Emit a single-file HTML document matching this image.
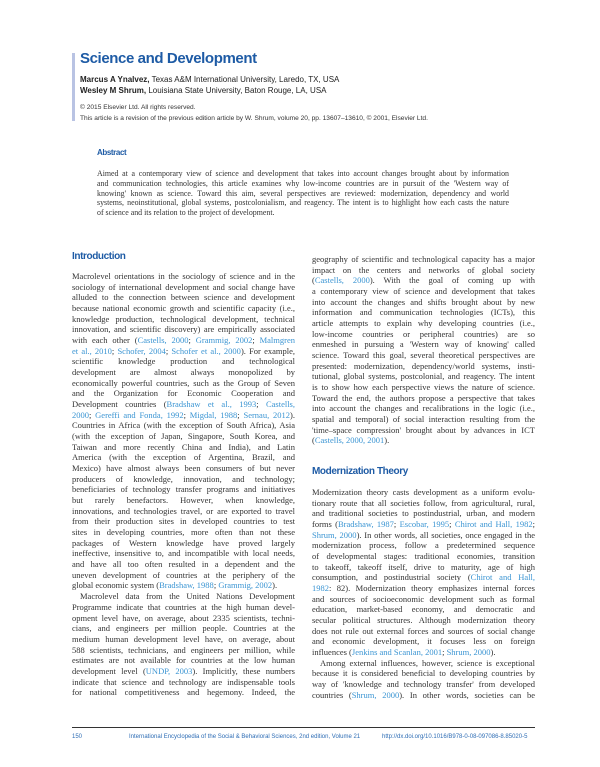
<!DOCTYPE html>
<html><head><meta charset="utf-8"><style>
body{margin:0;width:600px;height:767px;background:#fff;position:relative;overflow:hidden;font-family:"Liberation Serif",serif;color:#333}
.a{position:absolute}
.s{font-family:"Liberation Sans",sans-serif}
.col{position:absolute;width:223px;font-size:8.5px;line-height:10.68px}
.col div{height:10.68px;overflow:hidden;text-align:justify;text-align-last:justify}
.col div.e{text-align-last:left}
.col div.i{text-indent:8px}
.c{color:#3b95d3}
.hd{font-family:"Liberation Sans",sans-serif;font-weight:bold;color:#1e5ba5;font-size:10px;letter-spacing:-0.4px}
</style></head><body>
<div class="a" style="left:72px;top:53px;width:3px;height:68px;background:#b9c3e3"></div>
<div class="a s" style="left:80px;top:50px;font-size:15px;font-weight:bold;color:#1e5ba5;letter-spacing:-0.4px">Science and Development</div>
<div class="a s" style="left:80px;top:74px;font-size:8px;line-height:11px;color:#222"><b>Marcus A Ynalvez,</b> Texas A&amp;M International University, Laredo, TX, USA<br><b>Wesley M Shrum,</b> Louisiana State University, Baton Rouge, LA, USA</div>
<div class="a s" style="left:80px;top:102px;font-size:6.6px;line-height:11px;color:#333">© 2015 Elsevier Ltd. All rights reserved.<br>This article is a revision of the previous edition article by W. Shrum, volume 20, pp. 13607–13610, © 2001, Elsevier Ltd.</div>
<div class="a hd" style="left:97px;top:148px;font-size:8px">Abstract</div>
<div class="a" style="left:97px;top:169px;width:412px;font-size:7.9px;line-height:9.8px;color:#333">
<div style="text-align:justify;text-align-last:justify;height:9.8px;overflow:hidden">Aimed at a contemporary view of science and development that takes into account changes brought about by information</div>
<div style="text-align:justify;text-align-last:justify;height:9.8px;overflow:hidden">and communication technologies, this article examines why low-income countries are in pursuit of the 'Western way of</div>
<div style="text-align:justify;text-align-last:justify;height:9.8px;overflow:hidden">knowing' known as science. Toward this aim, several perspectives are reviewed: modernization, dependency and world</div>
<div style="text-align:justify;text-align-last:justify;height:9.8px;overflow:hidden">systems, neoinstitutional, global systems, postcolonialism, and reagency. The intent is to highlight how each casts the nature</div>
<div style="height:9.8px;overflow:hidden">of science and its relation to the project of development.</div>
</div>
<div class="a hd" style="left:72px;top:251px">Introduction</div>
<div class="col" style="left:72px;top:271px">
<div>Macrolevel orientations in the sociology of science and in the</div>
<div>sociology of international development and social change have</div>
<div>alluded to the connection between science and development</div>
<div>because national economic growth and scientific capacity (i.e.,</div>
<div>knowledge production, technological development, technical</div>
<div>innovation, and scientific discovery) are empirically associated</div>
<div>with each other (<span class="c">Castells, 2000</span>; <span class="c">Grammig, 2002</span>; <span class="c">Malmgren</span></div>
<div><span class="c">et al., 2010</span>; <span class="c">Schofer, 2004</span>; <span class="c">Schofer et al., 2000</span>). For example,</div>
<div>scientific knowledge production and technological</div>
<div>development are almost always monopolized by</div>
<div>economically powerful countries, such as the Group of Seven</div>
<div>and the Organization for Economic Cooperation and</div>
<div>Development countries (<span class="c">Bradshaw et al., 1993</span>; <span class="c">Castells,</span></div>
<div><span class="c">2000</span>; <span class="c">Gereffi and Fonda, 1992</span>; <span class="c">Migdal, 1988</span>; <span class="c">Sernau, 2012</span>).</div>
<div>Countries in Africa (with the exception of South Africa), Asia</div>
<div>(with the exception of Japan, Singapore, South Korea, and</div>
<div>Taiwan and more recently China and India), and Latin</div>
<div>America (with the exception of Argentina, Brazil, and</div>
<div>Mexico) have almost always been consumers of but never</div>
<div>producers of knowledge, innovation, and technology;</div>
<div>beneficiaries of technology transfer programs and initiatives</div>
<div>but rarely benefactors. However, when knowledge,</div>
<div>innovations, and technologies travel, or are exported to travel</div>
<div>from their production sites in developed countries to test</div>
<div>sites in developing countries, more often than not these</div>
<div>packages of Western knowledge have proved largely</div>
<div>ineffective, insensitive to, and incompatible with local needs,</div>
<div>and have all too often resulted in a dependent and the</div>
<div>uneven development of countries at the periphery of the</div>
<div class="e">global economic system (<span class="c">Bradshaw, 1988</span>; <span class="c">Grammig, 2002</span>).</div>
<div class="i">Macrolevel data from the United Nations Development</div>
<div>Programme indicate that countries at the high human devel-</div>
<div>opment level have, on average, about 2335 scientists, techni-</div>
<div>cians, and engineers per million people. Countries at the</div>
<div>medium human development level have, on average, about</div>
<div>588 scientists, technicians, and engineers per million, while</div>
<div>estimates are not available for countries at the low human</div>
<div>development level (<span class="c">UNDP, 2003</span>). Implicitly, these numbers</div>
<div>indicate that science and technology are indispensable tools</div>
<div>for national competitiveness and hegemony. Indeed, the</div>
</div>
<div class="col" style="left:312px;top:254px">
<div>geography of scientific and technological capacity has a major</div>
<div>impact on the centers and networks of global society</div>
<div>(<span class="c">Castells, 2000</span>). With the goal of coming up with</div>
<div>a contemporary view of science and development that takes</div>
<div>into account the changes and shifts brought about by new</div>
<div>information and communication technologies (ICTs), this</div>
<div>article attempts to explain why developing countries (i.e.,</div>
<div>low-income countries or peripheral countries) are so</div>
<div>enmeshed in pursuing a 'Western way of knowing' called</div>
<div>science. Toward this goal, several theoretical perspectives are</div>
<div>presented: modernization, dependency/world systems, insti-</div>
<div>tutional, global systems, postcolonial, and reagency. The intent</div>
<div>is to show how each perspective views the nature of science.</div>
<div>Toward the end, the authors propose a perspective that takes</div>
<div>into account the changes and recalibrations in the logic (i.e.,</div>
<div>spatial and temporal) of social interaction resulting from the</div>
<div>'time–space compression' brought about by advances in ICT</div>
<div class="e">(<span class="c">Castells, 2000, 2001</span>).</div>
</div>
<div class="a hd" style="left:312px;top:466px">Modernization Theory</div>
<div class="col" style="left:312px;top:487px">
<div>Modernization theory casts development as a uniform evolu-</div>
<div>tionary route that all societies follow, from agricultural, rural,</div>
<div>and traditional societies to postindustrial, urban, and modern</div>
<div>forms (<span class="c">Bradshaw, 1987</span>; <span class="c">Escobar, 1995</span>; <span class="c">Chirot and Hall, 1982</span>;</div>
<div><span class="c">Shrum, 2000</span>). In other words, all societies, once engaged in the</div>
<div>modernization process, follow a predetermined sequence</div>
<div>of developmental stages: traditional economies, transition</div>
<div>to takeoff, takeoff itself, drive to maturity, age of high</div>
<div>consumption, and postindustrial society (<span class="c">Chirot and Hall,</span></div>
<div><span class="c">1982</span>: 82). Modernization theory emphasizes internal forces</div>
<div>and sources of socioeconomic development such as formal</div>
<div>education, market-based economy, and democratic and</div>
<div>secular political structures. Although modernization theory</div>
<div>does not rule out external forces and sources of social change</div>
<div>and economic development, it focuses less on foreign</div>
<div class="e">influences (<span class="c">Jenkins and Scanlan, 2001</span>; <span class="c">Shrum, 2000</span>).</div>
<div class="i">Among external influences, however, science is exceptional</div>
<div>because it is considered beneficial to developing countries by</div>
<div>way of 'knowledge and technology transfer' from developed</div>
<div>countries (<span class="c">Shrum, 2000</span>). In other words, societies can be</div>
</div>
<div class="a" style="left:72px;top:727px;width:463px;height:1px;background:#333"></div>
<div class="a s" style="left:72px;top:734px;font-size:6px;color:#2e6db5">150</div>
<div class="a s" style="left:129px;top:734px;font-size:6px;color:#2e6db5">International Encyclopedia of the Social &amp; Behavioral Sciences, 2nd edition, Volume 21</div>
<div class="a s" style="left:382px;top:734px;font-size:6px;color:#2e6db5">http://dx.doi.org/10.1016/B978-0-08-097086-8.85020-5</div>
</body></html>
